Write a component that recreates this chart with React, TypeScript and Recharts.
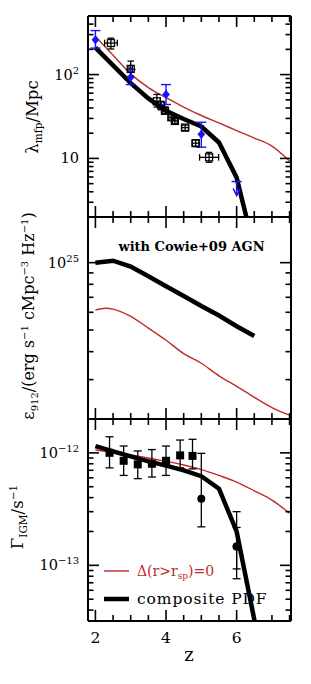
import React from 'react';
import { ComposedChart, Line, Scatter, XAxis, YAxis, ErrorBar, Legend } from 'recharts';

// ---------- shared x axis ----------
const zDomain = [1.79, 7.54];
const zTicks = [2, 2.5, 3, 3.5, 4, 4.5, 5, 5.5, 6, 6.5, 7, 7.5];
const zMajor = [2, 4, 6];

// ---------- panel 1: mean free path ----------
const lamDomain = [2, 500];
const lamTicks = [2, 3, 4, 5, 6, 7, 8, 9, 10, 20, 30, 40, 50, 60, 70, 80, 90, 100, 200, 300, 400, 500];
const lamMajor = [10, 100];
const lamZ = [2.0, 2.5, 3.0, 3.5, 4.0, 4.5, 5.0, 5.5, 6.0, 6.5];
const lamComposite = [210, 129, 79, 52, 37, 29.5, 24, 15.5, 5.9, 0.83];
const lamRedZ = [2.0, 2.5, 3.0, 3.5, 4.0, 4.5, 5.0, 5.5, 6.0, 6.5, 7.0, 7.5];
const lamRed = [284, 170, 102, 70, 53, 41, 32.5, 26.5, 21.5, 17.5, 14, 9.3];
const lamBlueZ = [2.0, 3.0, 4.0, 5.0];
const lamBlue = [260, 93, 58, 19.4];
const lamBlueLo = [207, 76, 44, 13.6];
const lamBlueHi = [335, 115, 76, 27];
const lamLimitZ = [6.0];
const lamLimit = [5.3];
const lamSqZ = [2.44, 3.0, 3.74, 3.86, 3.97, 4.15, 4.25, 4.54, 4.84, 5.22];
const lamSq = [238, 117, 48, 43, 37, 31, 28, 23.3, 15.2, 10.3];
const lamSqLo = [202, 95, 41, 38, 34, 28.5, 26, 21.5, 14, 9.0];
const lamSqHi = [272, 145, 58, 48, 41, 33.5, 30, 25, 16.6, 11.8];
const lamSqZErr = [0.18, 0.05, 0.1, 0.08, 0.06, 0.07, 0.07, 0.1, 0.1, 0.27];

// ---------- panel 2: emissivity ----------
const emDomain = [2e24, 1.6e25];
const emTicks = [2e24, 3e24, 4e24, 5e24, 6e24, 7e24, 8e24, 9e24, 1e25];
const emMajor = [1e25];
const emZ = [2.0, 2.5, 3.0, 3.5, 4.0, 4.5, 5.0, 5.5, 6.0, 6.5];
const emComposite = [1.0e25, 1.02e25, 9.6e24, 8.7e24, 7.85e24, 7.1e24, 6.4e24, 5.8e24, 5.2e24, 4.7e24];
const emRedZ = [2.0, 2.3, 2.5, 3.0, 3.5, 4.0, 4.5, 5.0, 5.5, 6.0, 6.5, 7.0, 7.5];
const emRed = [6.14e24, 6.25e24, 6.2e24, 5.75e24, 5.1e24, 4.5e24, 3.92e24, 3.55e24, 3.12e24, 2.8e24, 2.5e24, 2.25e24, 2.08e24];

// ---------- panel 3: photoionisation rate ----------
const gamDomain = [3.2e-14, 2e-12];
const gamTicks = [4e-14, 5e-14, 6e-14, 7e-14, 8e-14, 9e-14, 1e-13, 2e-13, 3e-13, 4e-13, 5e-13, 6e-13, 7e-13, 8e-13, 9e-13, 1e-12, 2e-12];
const gamMajor = [1e-13, 1e-12];
const gamZ = [2.0, 2.5, 3.0, 3.5, 4.0, 4.5, 5.0, 5.5, 6.0, 6.5, 6.7];
const gamComposite = [1.15e-12, 1.03e-12, 9.3e-13, 8.4e-13, 7.7e-13, 7.0e-13, 6.2e-13, 4.8e-13, 2.0e-13, 3.3e-14, 1.6e-14];
const gamRedZ = [2.0, 2.5, 3.0, 3.5, 4.0, 4.5, 5.0, 5.5, 6.0, 6.5, 7.0, 7.5];
const gamRed = [1.06e-12, 1.01e-12, 9.6e-13, 9.0e-13, 8.4e-13, 7.8e-13, 7.1e-13, 6.3e-13, 5.5e-13, 4.6e-13, 3.8e-13, 2.9e-13];
const gamSqZ = [2.4, 2.8, 3.2, 3.6, 4.0, 4.4, 4.75];
const gamSq = [1.0e-12, 8.5e-13, 7.9e-13, 8.0e-13, 8.5e-13, 9.5e-13, 9.4e-13];
const gamSqLo = [7.35e-13, 6.3e-13, 5.9e-13, 6.1e-13, 6.3e-13, 7.35e-13, 7.2e-13];
const gamSqHi = [1.39e-12, 1.15e-12, 1.04e-12, 1.07e-12, 1.15e-12, 1.3e-12, 1.32e-12];
const gamCircZ = [5.0, 6.0, 6.0];
const gamCirc = [3.9e-13, 1.47e-13, 1.47e-13];
const gamCircLo = [2.2e-13, 7.6e-14, 9.3e-14];
const gamCircHi = [9.9e-13, 3.0e-13, 2.17e-13];

// ---------- helpers ----------
const FONT = "'DejaVu Serif', serif";
const RED = '#c22a2c';
const BLUE = '#1414ff';

const line = (zs: number[], vs: number[]) => zs.map((z, i) => ({ z, v: vs[i] }));
const pts = (zs: number[], vs: number[], lo?: number[], hi?: number[], zerr?: number[]) =>
  zs.map((z, i) => ({
    z,
    v: vs[i],
    ey: lo && hi ? [vs[i] - lo[i], hi[i] - vs[i]] : 0,
    ex: zerr ? zerr[i] : 0,
  }));

const isMajor = (v: number, majors: number[]) => majors.some((m) => Math.abs(v - m) <= Math.abs(m) * 1e-6);

const makeXTick = (side: 'top' | 'bottom', labels: boolean) => (props: any) => {
  const { x, y, payload } = props;
  const v = payload.value;
  const major = isMajor(v, zMajor);
  const len = major ? 11 : 6;
  const dir = side === 'bottom' ? -1 : 1;
  return (
    <g>
      <line x1={x} y1={y} x2={x} y2={y + dir * len} stroke="#000" strokeWidth={1.6} />
      {labels && major ? (
        <text x={x} y={y + 21.5} textAnchor="middle" fontFamily={FONT} fontSize={15.5} fill="#000">
          {v}
        </text>
      ) : null}
    </g>
  );
};

const makeYTick = (side: 'left' | 'right', majors: number[], fmt?: (v: number) => React.ReactNode) => (props: any) => {
  const { x, y, payload } = props;
  const v = payload.value;
  const major = isMajor(v, majors);
  const len = major ? 11 : 5.5;
  const dir = side === 'left' ? 1 : -1;
  return (
    <g>
      <line x1={x} y1={y} x2={x + dir * len} y2={y} stroke="#000" strokeWidth={1.6} />
      {fmt && major ? (
        <text x={x - 9} y={y + 5} textAnchor="end" fontFamily={FONT} fontSize={14.5} fill="#000">
          {fmt(v)}
        </text>
      ) : null}
    </g>
  );
};

const sup = (s: string) => (
  <tspan dy={-6} fontSize={10}>
    {s}
  </tspan>
);
const fmtLam = (v: number) => (v < 50 ? '10' : <>10{sup('2')}</>);
const fmtEm = () => <>10{sup('25')}</>;
const fmtGam = (v: number) => <>10{sup(v > 5e-13 ? '\u221212' : '\u221213')}</>;

const Diamond = (p: any) => (
  <polygon
    points={`${p.cx},${p.cy - 4.6} ${p.cx + 3.8},${p.cy} ${p.cx},${p.cy + 4.6} ${p.cx - 3.8},${p.cy}`}
    fill={BLUE}
  />
);
const UpperLimit = (p: any) => {
  const { cx, cy } = p;
  return (
    <g stroke={BLUE} strokeWidth={1.5} fill="none">
      <line x1={cx - 5} y1={cy} x2={cx + 5} y2={cy} />
      <line x1={cx} y1={cy} x2={cx} y2={cy + 14} />
      <polyline points={`${cx - 3.5},${cy + 7} ${cx},${cy + 14} ${cx + 3.5},${cy + 7}`} />
    </g>
  );
};
const OpenSquare = (p: any) => (
  <rect x={p.cx - 3.5} y={p.cy - 3.5} width={7} height={7} fill="none" stroke="#000" strokeWidth={1.3} />
);
const FilledSquare = (p: any) => <rect x={p.cx - 4} y={p.cy - 4} width={8} height={8} fill="#000" />;
const FilledCircle = (p: any) => <circle cx={p.cx} cy={p.cy} r={4} fill="#000" />;

const axisLine = { stroke: '#000', strokeWidth: 2 };
const W = 311;

function Frame(props: {
  yDomain: number[];
  yTicks: number[];
  yMajor: number[];
  fmt: (v: number) => React.ReactNode;
  bottomLabels: boolean;
  bottomHeight: number;
  yLabel?: any;
  xLabel?: any;
  topLabel?: any;
}) {
  return [
    <XAxis
      key="xb"
      xAxisId={0}
      type="number"
      dataKey="z"
      domain={zDomain}
      ticks={zTicks}
      allowDataOverflow
      orientation="bottom"
      height={props.bottomHeight}
      tickLine={false}
      tickSize={0}
      tickMargin={0}
      interval={0}
      tick={makeXTick('bottom', props.bottomLabels)}
      axisLine={axisLine}
      label={props.xLabel}
    />,
    <XAxis
      key="xt"
      xAxisId="t"
      type="number"
      dataKey="z"
      domain={zDomain}
      ticks={zTicks}
      allowDataOverflow
      orientation="top"
      height={1}
      tickLine={false}
      tickSize={0}
      tickMargin={0}
      interval={0}
      tick={makeXTick('top', false)}
      axisLine={axisLine}
      label={props.topLabel}
    />,
    <YAxis
      key="yl"
      yAxisId={0}
      type="number"
      scale="log"
      domain={props.yDomain}
      ticks={props.yTicks}
      allowDataOverflow
      width={88}
      tickLine={false}
      tickSize={0}
      tickMargin={0}
      interval={0}
      tick={makeYTick('left', props.yMajor, props.fmt)}
      axisLine={axisLine}
      label={props.yLabel}
    />,
    <YAxis
      key="yr"
      yAxisId="r"
      orientation="right"
      type="number"
      scale="log"
      domain={props.yDomain}
      ticks={props.yTicks}
      allowDataOverflow
      width={1}
      tickLine={false}
      tickSize={0}
      tickMargin={0}
      interval={0}
      tick={makeYTick('right', props.yMajor)}
      axisLine={axisLine}
    />,
  ];
}

const lamLabel = {
  content: () => (
    <text transform="translate(38,117) rotate(-90)" textAnchor="middle" fontFamily={FONT} fontSize={16.5} fill="#000">
      λ
      <tspan dy={4} fontSize={10.5}>
        mfp
      </tspan>
      <tspan dy={-4}>/Mpc</tspan>
    </text>
  ),
};
const emLabel = {
  content: () => (
    <text transform="translate(34,100) rotate(-90)" textAnchor="middle" fontFamily={FONT} fontSize={16} fill="#000">
      ε
      <tspan dy={4} fontSize={10}>
        912
      </tspan>
      <tspan dy={-4}>/(erg s</tspan>
      <tspan dy={-6} fontSize={10}>
        −1
      </tspan>
      <tspan dy={6}> cMpc</tspan>
      <tspan dy={-6} fontSize={10}>
        −3
      </tspan>
      <tspan dy={6}> Hz</tspan>
      <tspan dy={-6} fontSize={10}>
        −1
      </tspan>
      <tspan dy={6}>)</tspan>
    </text>
  ),
};
const gamLabel = {
  content: () => (
    <text transform="translate(23,99) rotate(-90)" textAnchor="middle" fontFamily={FONT} fontSize={16.5} fill="#000">
      Γ
      <tspan dy={4} fontSize={10.5}>
        IGM
      </tspan>
      <tspan dy={-4}>/s</tspan>
      <tspan dy={-6} fontSize={10.5}>
        −1
      </tspan>
    </text>
  ),
};
const cowieLabel = {
  content: () => (
    <text x={191.5} y={35} textAnchor="middle" fontFamily={FONT} fontSize={13} fontWeight="bold" fill="#000">
      with Cowie+09 AGN
    </text>
  ),
};
const zLabel = {
  content: () => (
    <text x={189} y={243} textAnchor="middle" fontFamily={FONT} fontSize={18} fill="#000">
      z
    </text>
  ),
};

const legendContent = () => (
  <svg width={W} height={266} style={{ position: 'absolute', left: 0, top: 0, overflow: 'visible' }}>
    <line x1={104} y1={153} x2={129} y2={153} stroke={RED} strokeWidth={1.4} />
    <text x={137} y={158} fontFamily={FONT} fontSize={14} fill={RED}>
      Δ(r&gt;r
      <tspan dy={3} fontSize={9}>
        sp
      </tspan>
      <tspan dy={-3}>)=0</tspan>
    </text>
    <line x1={104} y1={181} x2={129} y2={181} stroke="#000" strokeWidth={4.5} />
    <text x={137} y={186} fontFamily={FONT} fontSize={15.5} letterSpacing={0.9} fill="#000">
      composite PDF
    </text>
  </svg>
);

export default function App() {
  return (
    <div style={{ position: 'absolute', left: 0, top: 0, width: W, height: 684, background: '#fff' }}>
      <style>{`.recharts-surface{overflow:visible}`}</style>

      {/* Panel 1 */}
      <div style={{ position: 'absolute', left: 0, top: 0 }}>
        <ComposedChart width={W} height={218} margin={{ top: 15, right: 19, bottom: 0, left: 0 }}>
          {Frame({
            yDomain: lamDomain,
            yTicks: lamTicks,
            yMajor: lamMajor,
            fmt: fmtLam,
            bottomLabels: false,
            bottomHeight: 1,
            yLabel: lamLabel,
          })}
          <Line data={line(lamRedZ, lamRed)} dataKey="v" type="monotone" stroke={RED} strokeWidth={1.4} dot={false} isAnimationActive={false} />
          <Line data={line(lamZ, lamComposite)} dataKey="v" type="linear" stroke="#000" strokeWidth={4.5} dot={false} isAnimationActive={false} />
          <Scatter data={pts(lamSqZ, lamSq, lamSqLo, lamSqHi, lamSqZErr)} dataKey="v" shape={OpenSquare} isAnimationActive={false}>
            <ErrorBar dataKey="ey" direction="y" width={3.3} stroke="#000" strokeWidth={1.3} />
            <ErrorBar dataKey="ex" direction="x" width={3.3} stroke="#000" strokeWidth={1.3} />
          </Scatter>
          <Scatter data={pts(lamBlueZ, lamBlue, lamBlueLo, lamBlueHi)} dataKey="v" shape={Diamond} isAnimationActive={false}>
            <ErrorBar dataKey="ey" direction="y" width={5} stroke={BLUE} strokeWidth={1.4} />
          </Scatter>
          <Scatter data={pts(lamLimitZ, lamLimit)} dataKey="v" shape={UpperLimit} isAnimationActive={false} />
        </ComposedChart>
      </div>

      {/* Panel 2 */}
      <div style={{ position: 'absolute', left: 0, top: 216 }}>
        <ComposedChart width={W} height={204} margin={{ top: 0, right: 19, bottom: 0, left: 0 }}>
          {Frame({
            yDomain: emDomain,
            yTicks: emTicks,
            yMajor: emMajor,
            fmt: fmtEm,
            bottomLabels: false,
            bottomHeight: 1,
            yLabel: emLabel,
            topLabel: cowieLabel,
          })}
          <Line data={line(emRedZ, emRed)} dataKey="v" type="monotone" stroke={RED} strokeWidth={1.4} dot={false} isAnimationActive={false} />
          <Line data={line(emZ, emComposite)} dataKey="v" type="linear" stroke="#000" strokeWidth={4.5} dot={false} isAnimationActive={false} />
        </ComposedChart>
      </div>

      {/* Panel 3 */}
      <div style={{ position: 'absolute', left: 0, top: 418 }}>
        <ComposedChart width={W} height={266} margin={{ top: 0, right: 19, bottom: 0, left: 0 }}>
          {Frame({
            yDomain: gamDomain,
            yTicks: gamTicks,
            yMajor: gamMajor,
            fmt: fmtGam,
            bottomLabels: true,
            bottomHeight: 63,
            yLabel: gamLabel,
            xLabel: zLabel,
          })}
          <Line data={line(gamRedZ, gamRed)} dataKey="v" type="monotone" stroke={RED} strokeWidth={1.4} dot={false} isAnimationActive={false} />
          <Line data={line(gamZ, gamComposite)} dataKey="v" type="linear" stroke="#000" strokeWidth={4.5} dot={false} isAnimationActive={false} />
          <Scatter data={pts(gamSqZ, gamSq, gamSqLo, gamSqHi)} dataKey="v" shape={FilledSquare} isAnimationActive={false}>
            <ErrorBar dataKey="ey" direction="y" width={4} stroke="#000" strokeWidth={1.3} />
          </Scatter>
          <Scatter data={pts(gamCircZ, gamCirc, gamCircLo, gamCircHi)} dataKey="v" shape={FilledCircle} isAnimationActive={false}>
            <ErrorBar dataKey="ey" direction="y" width={4} stroke="#000" strokeWidth={1.3} />
          </Scatter>
          <Legend
            layout="horizontal"
            verticalAlign="middle"
            align="center"
            wrapperStyle={{ position: 'absolute', left: 0, top: 0, width: W, height: 266, pointerEvents: 'none' }}
            content={legendContent}
          />
        </ComposedChart>
      </div>
    </div>
  );
}
